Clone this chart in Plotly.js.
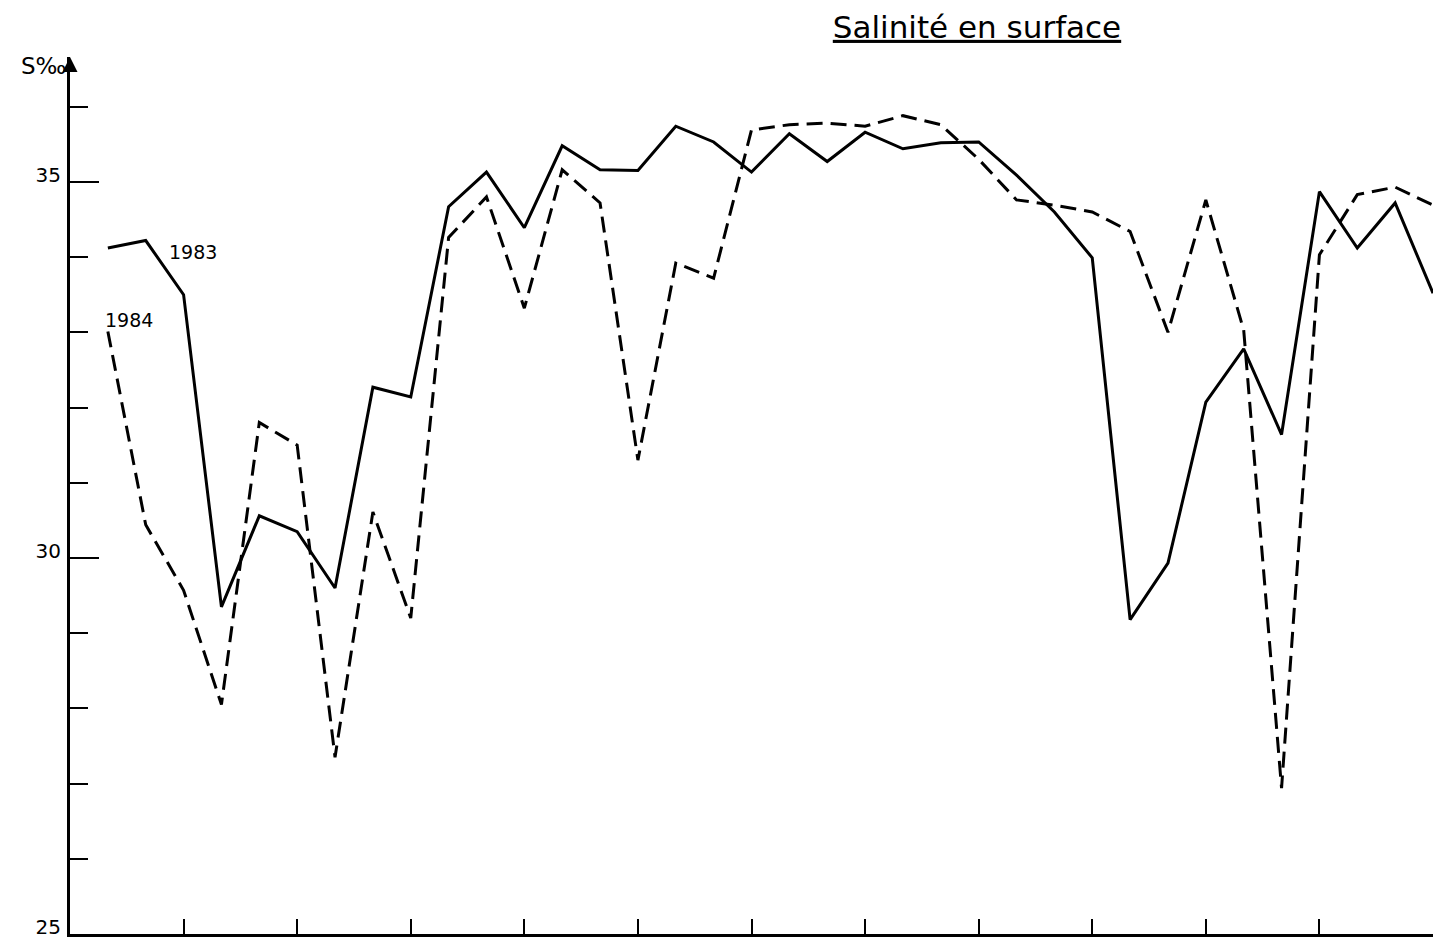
<!DOCTYPE html>
<html>
<head>
<meta charset="utf-8">
<script src="https://cdn.plot.ly/plotly-3.0.1.min.js"></script>
<style>html,body{margin:0;padding:0;background:#fff;}#chart{width:1433px;height:938px;}</style>
</head>
<body>
<div id="chart"></div>
<script>
// Decade index (3 per month, Jan..Dec)
const decades = Array.from({length: 36}, (_, i) => i + 1);
const sal1983 = [34.12, 34.22, 33.50, 29.35, 30.56, 30.35, 29.60, 32.27, 32.14, 34.67,
                 35.13, 34.39, 35.48, 35.16, 35.15, 35.74, 35.53, 35.13, 35.64, 35.27,
                 35.66, 35.44, 35.52, 35.53, 35.09, 34.60, 33.99, 29.18, 29.93, 32.07,
                 32.78, 31.64, 34.87, 34.12, 34.72, 33.52];
const sal1984 = [33.01, 30.44, 29.57, 28.05, 31.80, 31.50, 27.35, 30.61, 29.20, 34.26,
                 34.80, 33.32, 35.16, 34.72, 31.30, 33.92, 33.72, 35.69, 35.76, 35.78,
                 35.74, 35.88, 35.76, 35.30, 34.76, 34.69, 34.60, 34.34, 33.00, 34.76,
                 33.03, 26.94, 34.03, 34.83, 34.93, 34.69];
const monthTicks = [0, 3, 6, 9, 12, 15, 18, 21, 24, 27, 30, 33, 36];
const yLabelTicks = [25, 30, 35];
const yLabelText = ['25', '30', '35'];

const font = 'DejaVu Sans, Arial, sans-serif';

const traces = [
  {x: decades, y: sal1983, type: 'scatter', mode: 'lines', name: '1983',
   line: {color: '#000', width: 3}},
  {x: decades, y: sal1984, type: 'scatter', mode: 'lines', name: '1984',
   line: {color: '#000', width: 3, dash: '16px,8px'}}
];

const layout = {
  width: 1433, height: 938,
  margin: {l: 70, r: 0, t: 57, b: 4},
  paper_bgcolor: '#fff', plot_bgcolor: '#fff',
  showlegend: false,
  title: {text: '<u>Salinité en surface</u>', x: 977/1433, xanchor: 'center',
          y: 1 - 27/938, yanchor: 'middle', xref: 'container', yref: 'container',
          font: {family: font, size: 31, color: '#000'}},
  xaxis: {range: [0, 36], showgrid: false, zeroline: false,
          showline: true, linecolor: '#000', linewidth: 3,
          tickmode: 'array', tickvals: monthTicks, ticktext: monthTicks.map(() => ''),
          ticks: 'inside', ticklen: 15, tickwidth: 2, tickcolor: '#000',
          showticklabels: false},
  yaxis: {range: [25, 36.66], showgrid: false, zeroline: false,
          showline: true, linecolor: '#000', linewidth: 3,
          tickmode: 'array', tickvals: yLabelTicks, ticktext: yLabelText,
          ticks: 'inside', ticklen: 29, tickwidth: 2, tickcolor: '#000',
          ticklabeloverflow: 'allow', ticklabelshift: -7, ticklabelstandoff: 2,
          tickfont: {family: font, size: 20, color: '#000'},
          minor: {dtick: 1, tick0: 25, ticks: 'inside', ticklen: 18, tickwidth: 2, tickcolor: '#000'}},
  annotations: [
    {x: 3.25, y: 34.07, xref: 'x', yref: 'y', text: '1983', showarrow: false,
     font: {family: font, size: 19, color: '#000'}},
    {x: 1.56, y: 33.16, xref: 'x', yref: 'y', text: '1984', showarrow: false,
     font: {family: font, size: 19, color: '#000'}},
    {x: 0, y: 36.54, xref: 'paper', yref: 'y', text: 'S‰', showarrow: false,
     xanchor: 'right', yanchor: 'middle', xshift: -2,
     font: {family: font, size: 23, color: '#000'}},
    {x: 0, y: 36.66, xref: 'paper', yref: 'y', text: '', showarrow: true,
     ax: 0, ay: 14, axref: 'pixel', ayref: 'pixel', arrowhead: 2, arrowsize: 1,
     arrowwidth: 3, arrowcolor: '#000', standoff: 0}
  ]
};

Plotly.newPlot('chart', traces, layout, {displayModeBar: false, staticPlot: true});
</script>
</body>
</html>
